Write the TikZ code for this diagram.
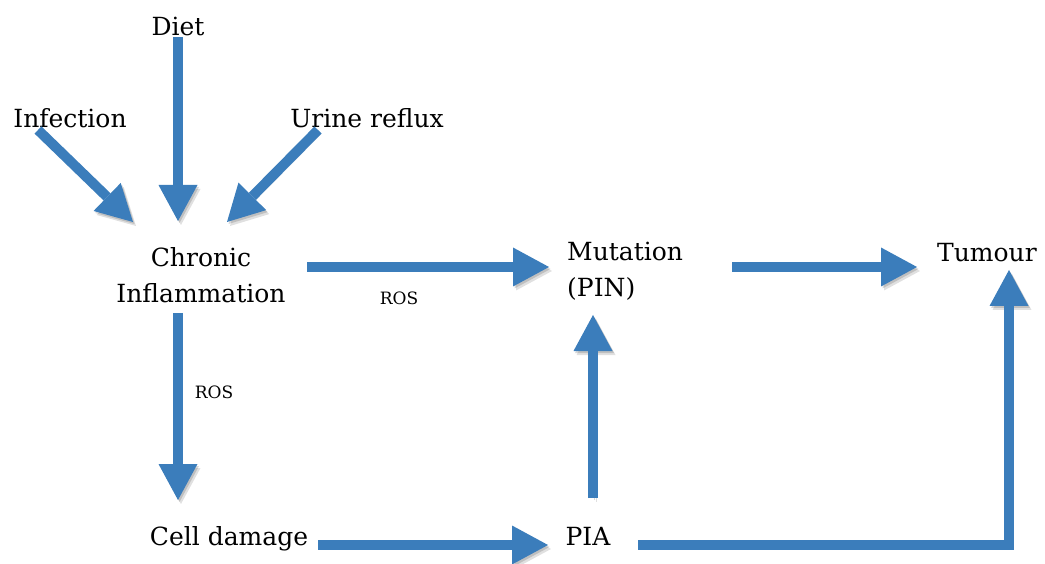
\documentclass[tikz,border=0pt]{standalone}
\usepackage{fontspec}
\setmainfont{DejaVu Serif}
\usetikzlibrary{arrows.meta}
\definecolor{arrowblue}{RGB}{59,125,187}
\begin{document}
\begin{tikzpicture}[x=1pt,y=-1pt,
  lbl/.style={font=\fontsize{25}{36}\selectfont, inner sep=0pt},
  small/.style={font=\fontsize{17}{20}\selectfont, inner sep=0pt},
  flow/.style={draw=arrowblue, line width=10pt, line join=miter,
    -{Triangle[width=39pt,length=36pt,line width=0pt]},
    preaction={draw=black, opacity=0.12, transform canvas={shift={(3pt,-4pt)}}},
    preaction={draw=black, opacity=0.15, transform canvas={shift={(1.5pt,-2pt)}}}},
]
\useasboundingbox (0,0) rectangle (1045,564);

% texts
\node[lbl, anchor=base] (diet) at (178,36) {Diet};
\node[lbl, anchor=base] (infection) at (70,128) {Infection};
\node[lbl, anchor=base] (urine) at (367,128) {Urine reflux};
\node[lbl, anchor=base, align=center] (chronic) at (201,303) {Chronic\\Inflammation};
\node[lbl, anchor=base west, align=left] (mutation) at (567,297) {Mutation\\(PIN)};
\node[lbl, anchor=base] (tumour) at (987,262) {Tumour};
\node[lbl, anchor=base] (cell) at (229,545) {Cell damage};
\node[lbl, anchor=base] (pia) at (588,545) {PIA};
\node[small, anchor=base] (ros1) at (399,305) {ROS};
\node[small, anchor=base] (ros2) at (214,398) {ROS};

% connector ends
\coordinate (infectionOut) at (38,130);
\coordinate (chronicInLeft) at (133,222);
\coordinate (dietOut) at (178,37);
\coordinate (chronicInTop) at (178,221);
\coordinate (urineOut) at (318,130);
\coordinate (chronicInRight) at (227,222);
\coordinate (chronicOutRight) at (307,267);
\coordinate (mutationInLeft) at (549,267);
\coordinate (mutationOutRight) at (732,267);
\coordinate (tumourInLeft) at (917,267);
\coordinate (chronicOutBottom) at (178,313);
\coordinate (cellIn) at (178,500);
\coordinate (cellOut) at (318,545);
\coordinate (piaInLeft) at (548,545);
\coordinate (piaOutTop) at (593,498);
\coordinate (mutationInBottom) at (593,315);
\coordinate (piaOutRight) at (638,545);
\coordinate (tumourInBottom) at (1009,270);

% connectors
\draw[flow] (infectionOut) -- (chronicInLeft);
\draw[flow] (dietOut) -- (chronicInTop);
\draw[flow] (urineOut) -- (chronicInRight);
\draw[flow] (chronicOutRight) -- (mutationInLeft);
\draw[flow] (mutationOutRight) -- (tumourInLeft);
\draw[flow] (chronicOutBottom) -- (cellIn);
\draw[flow] (cellOut) -- (piaInLeft);
\draw[flow] (piaOutTop) -- (mutationInBottom);
\draw[flow] (piaOutRight) -| (tumourInBottom);
\end{tikzpicture}
\end{document}
